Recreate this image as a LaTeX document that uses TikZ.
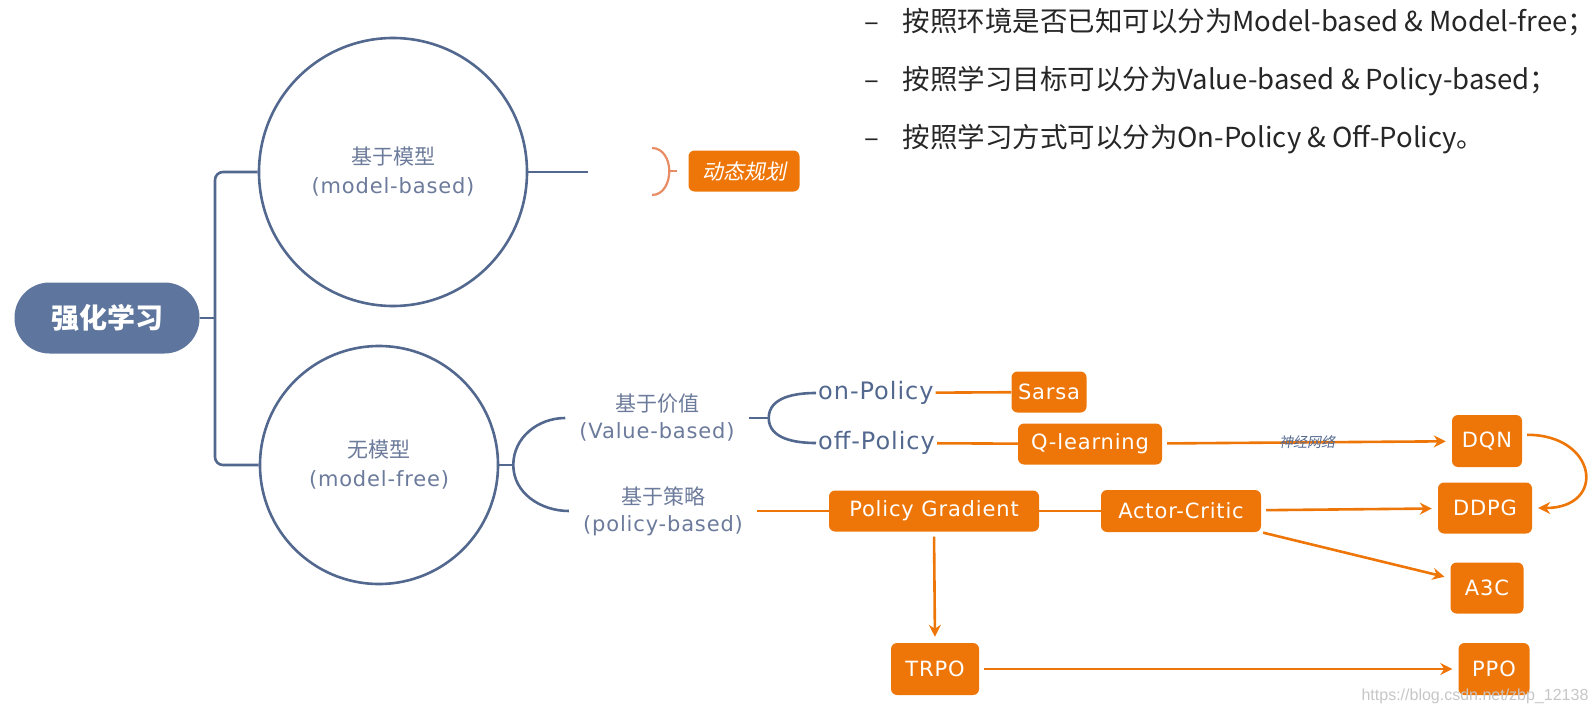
\documentclass[tikz,border=0pt]{standalone}
\usepackage{fontspec}
\setmainfont{Noto Sans CJK SC}
\newfontfamily\handfont[LetterSpace=4]{DejaVu Sans}
\newfontfamily\slantfont[FakeSlant=0.2]{Noto Sans CJK SC}
\newfontfamily\sitefont{Liberation Sans}
\usetikzlibrary{arrows.meta, positioning}

\definecolor{slate}{RGB}{83,104,143}
\definecolor{slatefill}{RGB}{94,117,157}
\definecolor{slatetext}{RGB}{108,123,155}
\definecolor{rlorange}{RGB}{238,118,8}
\definecolor{softorange}{RGB}{232,140,100}

\begin{document}
\begin{tikzpicture}[
    x=1pt, y=-1pt,
    box/.style={fill=rlorange, text=white, rounded corners=6pt, inner sep=0pt,
                font=\fontsize{21}{24}\selectfont\handfont},
    topic/.style={circle, draw=slate, line width=2.6pt, fill=white, inner sep=0pt,
                  align=center, text=slatetext, font=\fontsize{21}{29}\selectfont},
    branch/.style={align=center, text=slatetext, inner xsep=14pt,
                   font=\fontsize{21}{27}\selectfont},
    policy/.style={text=slate, inner xsep=2pt, font=\fontsize{24}{28}\selectfont\handfont},
    note/.style={anchor=west, text=black!85, font=\fontsize{27.5}{30}\selectfont},
    trunk/.style={draw=slate, line width=2.6pt},
    link/.style={draw=rlorange, line width=2.6pt},
    arrow/.style={link, -{Stealth[length=12pt, width=12pt]}, shorten <=5pt, shorten >=6pt}
]
\useasboundingbox (0,0) rectangle (1596,717);

% Classification notes
\node[note] (note1) at (861,22)
    {\makebox[38pt][l]{–}按照环境是否已知可以分为Model-based \& Model-free；};
\node[note] (note2) at (861,81)
    {\makebox[38pt][l]{–}按照学习目标可以分为Value-based \& Policy-based；};
\node[note] (note3) at (861,139)
    {\makebox[38pt][l]{–}按照学习方式可以分为On-Policy \& Off-Policy。};

% Mind map
\node[fill=slatefill, rounded corners=35pt, minimum width=185pt, minimum height=71pt,
      text=white, font=\fontsize{28}{32}\selectfont\bfseries] (rl) at (107,318) {强化学习};
\node[topic, minimum size=268pt] (mb) at (393,172) {基于模型\\{\handfont (model-based)}};
\node[topic, minimum size=238pt] (mf) at (379,465) {无模型\\{\handfont (model-free)}};

\coordinate (fork) at (215,318);
\draw[trunk] (rl) -- (fork);
\draw[trunk, rounded corners=8pt] (mb.west) -| (fork) |- (mf.west);

\coordinate (mbend) at (588,172);
\draw[trunk] (mb) -- (mbend);

\node[box, font=\fontsize{21}{24}\selectfont\slantfont, minimum width=111pt,
      minimum height=41pt] (dp) at (744,171) {动态规划};
\draw[softorange, line width=2.2pt] ([xshift=-11pt]dp.west) -- ++(-8,0) coordinate (dpj);
\draw[softorange, line width=2.2pt] (652,148) to[out=0, in=90] (dpj) to[out=-90, in=0] (652,195);

\node[branch] (vb) at (657,418) {基于价值\\{\handfont (Value-based)}};
\node[branch] (pb) at (663,511) {基于策略\\{\handfont (policy-based)}};
\draw[trunk] (mf.east) -- ++(14,0) coordinate (mfj);
\draw[trunk] (vb.west) to[out=180, in=90] (mfj) to[out=-90, in=180] (pb.west);

\node[policy, anchor=west] (onp) at (816,393) {on-Policy};
\node[policy, anchor=west] (offp) at (816,443) {off-Policy};
\draw[trunk] (vb.east) -- ++(20,0) coordinate (vbj);
\draw[trunk] (onp.west) to[out=180, in=90] (vbj) to[out=-90, in=180] (offp.west);

% Algorithms
\node[box, minimum width=75pt, minimum height=41pt] (sarsa) at (1049,392) {Sarsa};
\node[box, minimum width=144pt, minimum height=41pt] (ql) at (1090,444) {Q-learning};
\node[box, minimum width=210pt, minimum height=41pt] (pg) at (934,511) {Policy Gradient};
\node[box, minimum width=160pt, minimum height=42pt] (ac) at (1181,511) {Actor-Critic};
\node[box, minimum width=70pt, minimum height=52pt] (dqn) at (1487,441) {DQN};
\node[box, minimum width=94pt, minimum height=51pt] (ddpg) at (1485,508) {DDPG};
\node[box, minimum width=73pt, minimum height=51pt] (a3c) at (1487,588) {A3C};
\node[box, minimum width=88pt, minimum height=52pt] (trpo) at (935,669) {TRPO};
\node[box, minimum width=71pt, minimum height=52pt] (ppo) at (1494,669) {PPO};

\draw[link] (onp) -- (sarsa);
\draw[link] (offp) -- (ql);
\draw[link] (pb) -- (pg);
\draw[link] (pg) -- (ac);
\draw[arrow] (ql) -- node[midway, text=slate, font=\fontsize{14}{16}\selectfont\slantfont]
    {神经网络} (dqn);
\draw[arrow] (ac) -- (ddpg);
\draw[arrow, shorten <=2pt] (ac.south east) -- (a3c.165);
\draw[arrow] (dqn.10) .. controls +(75,0) and +(75,0) .. (ddpg.east);
\draw[arrow] (pg.south) -- (trpo.north);
\draw[arrow] (trpo) -- (ppo);

\node[text=gray!45, font=\fontsize{16}{18}\selectfont\sitefont] (site) at (1475,696)
    {https://blog.csdn.net/zbp\_12138};
\end{tikzpicture}
\end{document}
